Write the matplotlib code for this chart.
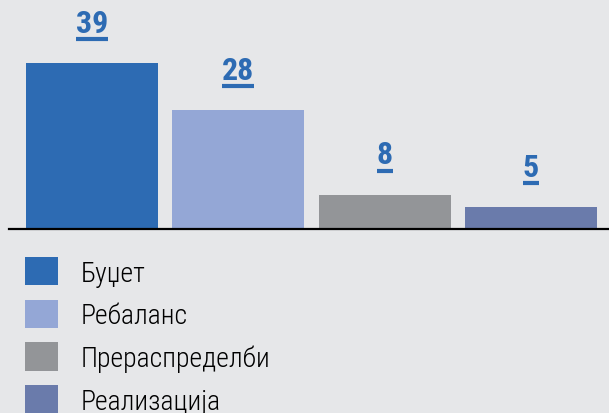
import matplotlib
matplotlib.use('Agg')
import matplotlib.pyplot as plt
from matplotlib.patches import Patch

categories = ['Буџет', 'Ребаланс', 'Прераспределби', 'Реализација']
values = [39, 28, 8, 5]
colors = ['#2d6bb3', '#94a7d6', '#939598', '#6a7bab']

bg = '#e6e7e9'
plt.rcParams['font.family'] = ['Roboto Condensed', 'Liberation Sans Narrow', 'DejaVu Sans']
plt.rcParams['font.stretch'] = 'condensed'

fig = plt.figure(figsize=(6.09, 4.14), dpi=100, facecolor=bg)
ax = fig.add_axes([9 / 609, (414 - 229.5) / 414, 600 / 609, 229.5 / 414])
ax.set_facecolor(bg)

x = list(range(len(values)))
ax.bar(x, values, width=0.9, color=colors)
ax.set_xlim(-0.567, 3.533)
ax.set_ylim(0, 54)

for s in ['top', 'left', 'right']:
    ax.spines[s].set_visible(False)
ax.spines['bottom'].set_linewidth(1.6)
ax.spines['bottom'].set_color('black')
ax.set_xticks([])
ax.set_yticks([])

# value labels, underlined
for xi, v in zip(x, values):
    ax.annotate(str(v), (xi, v), xytext=(0, 18), textcoords='offset points',
                ha='center', va='bottom', fontsize=23, fontweight=600,
                color='#2d6bb3')
fig.canvas.draw()
renderer = fig.canvas.get_renderer()
for t in ax.texts:
    bb = t.get_window_extent(renderer)
    y0 = bb.y0 - 1
    ax.plot([bb.x0, bb.x1], [y0, y0], transform=None, color='#2d6bb3',
            lw=3, solid_capstyle='butt', clip_on=False)

handles = [Patch(facecolor=c, edgecolor='none') for c in colors]
fig.legend(handles, categories, loc='upper left',
           bbox_to_anchor=(25 / 609, 1 - 258 / 414), frameon=False,
           prop={'size': 20, 'weight': 300},
           handlelength=1.2, handleheight=1.2,
           labelspacing=0.47, handletextpad=0.8, borderaxespad=0,
           borderpad=0)

fig.savefig('out.png', dpi=100, facecolor=bg)
